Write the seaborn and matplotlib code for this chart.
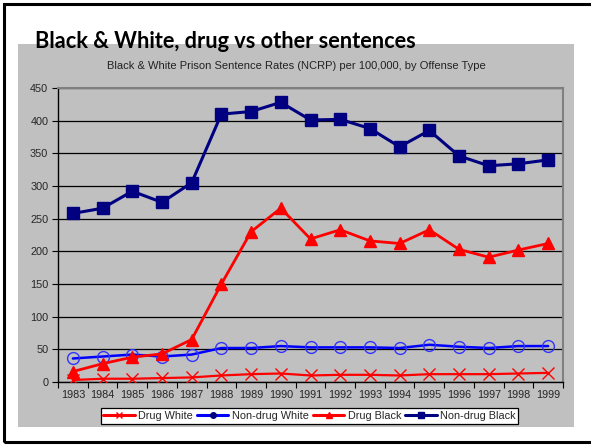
import matplotlib
matplotlib.use("Agg")
import matplotlib.pyplot as plt
import seaborn as sns
import pandas as pd
from matplotlib.lines import Line2D
from matplotlib.patches import Rectangle
from matplotlib.ticker import FixedLocator, NullFormatter

years = [str(y) for y in range(1983, 2000)]
drug_white = [3, 5, 5, 6, 7, 10, 12, 13, 10, 11, 11, 10, 12, 12, 12, 13, 14]
nondrug_white = [36, 39, 42, 39, 42, 52, 52, 55, 53, 53, 53, 52, 57, 54, 52, 55, 55]
drug_black = [16, 28, 38, 43, 65, 150, 230, 266, 219, 233, 216, 212, 233, 203, 191, 202, 212]
nondrug_black = [258, 266, 292, 275, 305, 410, 414, 428, 401, 402, 388, 360, 385, 346, 331, 334, 340]
series_names = ["Drug White", "Non-drug White", "Drug Black", "Non-drug Black"]
y_ticks = list(range(0, 451, 50))

title = "Black & White, drug vs other sentences"
subtitle = "Black & White Prison Sentence Rates (NCRP) per 100,000, by Offense Type"

sns.set_theme(style="white")
plt.rcParams["font.family"] = ["Liberation Sans", "DejaVu Sans"]

W, H = 591, 445
fig = plt.figure(figsize=(W / 100, H / 100), dpi=100)
fig.patch.set_facecolor("white")

# outer frame (top, left, bottom visible)
fig.patches.append(Rectangle((4 / W, 3 / H), 1.2, (H - 3 - 4) / H, transform=fig.transFigure,
                             facecolor="none", edgecolor="black", linewidth=2.2, zorder=-2))
# grey chart area
fig.patches.append(Rectangle((18 / W, (H - 427) / H), (574 - 18) / W, (427 - 44) / H,
                             transform=fig.transFigure, facecolor="#C0C0C0", edgecolor="none", zorder=-1))

ax = fig.add_axes([58 / W, (H - 382) / H, (563 - 58) / W, (382 - 88) / H])
ax.set_facecolor("#C0C0C0")

x = list(range(len(years)))
df = pd.DataFrame({"x": x, "Drug White": drug_white, "Non-drug White": nondrug_white,
                   "Drug Black": drug_black, "Non-drug Black": nondrug_black})

styles = {
    "Drug White": dict(color="#FF0000", lw=1.6, marker="x", ms=9, mec="#FF0000", mfc="#FF0000", mew=1.0),
    "Non-drug White": dict(color="#0000FF", lw=1.8, marker="o", ms=8.5, mec="#3333FF", mfc="none", mew=1.0),
    "Drug Black": dict(color="#FF0000", lw=2.0, marker="^", ms=8, mec="#FF0000", mfc="#FF0000", mew=1.0),
    "Non-drug Black": dict(color="#000080", lw=2.2, marker="s", ms=8.3, mec="#000080", mfc="#000080", mew=1.0),
}
for name in series_names:
    s = styles[name]
    sns.lineplot(data=df, x="x", y=name, ax=ax, color=s["color"], linewidth=s["lw"],
                 marker=s["marker"], markersize=s["ms"], markeredgecolor=s["mec"],
                 markerfacecolor=s["mfc"], markeredgewidth=s["mew"], zorder=3)

ax.set_xlim(-0.5, len(years) - 0.5)
ax.set_ylim(0, 450)
ax.set_yticks(y_ticks)
ax.set_yticklabels([str(v) for v in y_ticks], fontsize=7.8)
ax.grid(axis="y", color="black", linewidth=0.9)
ax.set_axisbelow(True)

ax.xaxis.set_major_locator(FixedLocator([i - 0.5 for i in range(len(years) + 1)]))
ax.xaxis.set_major_formatter(NullFormatter())
ax.xaxis.set_minor_locator(FixedLocator(x))
ax.set_xticklabels(years, minor=True, fontsize=7.8)
ax.tick_params(axis="x", which="major", length=4, width=0.8, color="black", direction="out", bottom=True)
ax.tick_params(axis="x", which="minor", length=0, pad=6)
ax.tick_params(axis="y", length=4, width=0.8, color="black", direction="out", left=True, pad=3)
ax.set_xlabel("")
ax.set_ylabel("")

for side in ["left", "bottom"]:
    ax.spines[side].set_color("black")
    ax.spines[side].set_linewidth(1.0)
for side in ["top", "right"]:
    ax.spines[side].set_color("#808080")
    ax.spines[side].set_linewidth(1.5)
    ax.spines[side].set_visible(True)

handles = []
for name in series_names:
    s = styles[name]
    handles.append(Line2D([], [], color=s["color"], lw=2.2, marker=s["marker"], ms=4,
                          mec=s["color"] if name != "Non-drug White" else "#000080",
                          mfc=s["color"] if name != "Non-drug White" else "#000080", mew=1.0))
leg = fig.legend(handles, series_names, loc="center", bbox_to_anchor=(309.5 / W, (H - 416) / H),
                 ncol=4, frameon=True, fancybox=False, fontsize=7.8, handlelength=2.9,
                 handletextpad=0.3, columnspacing=0.4, borderpad=0.25, edgecolor="black",
                 facecolor="white", framealpha=1)
leg.get_frame().set_linewidth(0.9)

fig.text(35 / W, (H - 41) / H, title, fontsize=15.7, fontweight="bold", family="Lato",
         ha="left", va="center", color="black", zorder=5)
fig.text(296 / W, (H - 66) / H, subtitle, fontsize=8.0, ha="center", va="center", color="#222222")

fig.savefig("out.png", dpi=100, facecolor="white")
